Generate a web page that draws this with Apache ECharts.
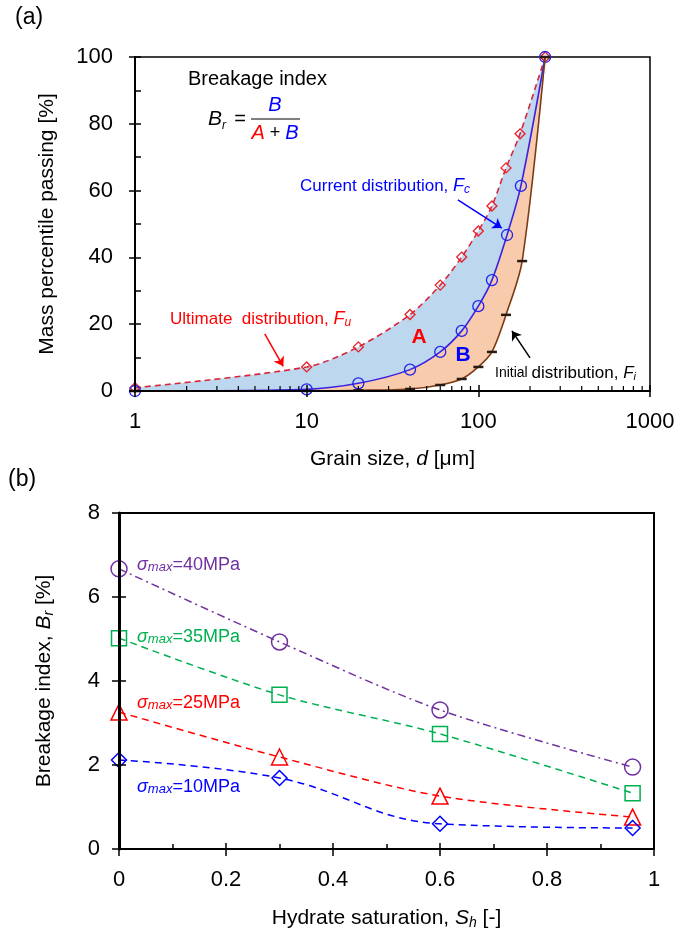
<!DOCTYPE html>
<html><head><meta charset="utf-8">
<script src="https://cdn.jsdelivr.net/npm/echarts@6/dist/echarts.min.js"></script>
<style>html,body{margin:0;padding:0;background:#fff}#c{width:678px;height:936px}</style>
</head><body><div id="c"></div>
<script>
const FONT = '"Liberation Sans", Arial, sans-serif';
// (a) grain size distributions
const ultimateD = [1, 10, 20, 40, 60, 80, 100, 120, 145, 175, 245];
const ultimateP = [1.0, 7.2, 13.2, 22.9, 31.7, 40.1, 47.9, 55.4, 66.8, 77.0, 100];
const currentD = [1, 10, 20, 40, 60, 80, 100, 120, 147, 177, 245];
const currentP = [0, 0.5, 2.3, 6.4, 11.7, 18.0, 25.4, 33.2, 46.7, 61.4, 100];
const initialD = [1, 10, 20, 40, 60, 80, 100, 120, 145, 180, 245];
const initialP = [0, 0, 0.2, 0.6, 1.8, 3.6, 7.2, 11.7, 22.8, 38.9, 100];
const grainMinorTicks = [2,3,4,5,6,7,8,9,20,30,40,50,60,70,80,90,200,300,400,500,600,700,800,900];
// (b) breakage index vs hydrate saturation
const saturation = [0, 0.3, 0.6, 0.96];
const br40 = [6.67, 4.93, 3.31, 1.95];
const br35 = [5.02, 3.67, 2.74, 1.33];
const br25 = [3.26, 2.19, 1.26, 0.76];
const br10 = [2.12, 1.69, 0.60, 0.50];
const stressLabels = ['=40MPa', '=35MPa', '=25MPa', '=10MPa'];

const pairs = (xs, ys) => xs.map((x, i) => [x, ys[i]]);
const tickFont = {fontFamily: FONT, fontSize: 22, color: '#000'};
const nameStyle = (sz) => ({fontFamily: FONT, fontSize: sz, color: '#000',
  rich: {i: {fontFamily: FONT, fontSize: sz, fontStyle: 'italic', color: '#000'},
         s: {fontFamily: FONT, fontSize: 14, fontStyle: 'italic', color: '#000', padding: [9, 0, 0, 0]},
         n: {fontFamily: FONT, fontSize: sz, color: '#000'}}});
const blk = {color: '#000', width: 1.5};

const chart = echarts.init(document.getElementById('c'));
const option = {
  animation: false,
  backgroundColor: '#fff',
  grid: [
    {left: 135, top: 57, width: 515, height: 334, show: true, borderColor: '#000', borderWidth: 1.5, backgroundColor: 'transparent'},
    {left: 119, top: 513, width: 535, height: 336, show: true, borderColor: '#000', borderWidth: 2, backgroundColor: 'transparent'}
  ],
  xAxis: [
    {type: 'log', logBase: 10, min: 1, max: 1000, gridIndex: 0, z: 5, position: 'bottom',
     axisLine: {lineStyle: {color: '#000', width: 2}}, axisTick: {length: 6, lineStyle: blk},
     axisLabel: Object.assign({margin: 20, formatter: v => String(v)}, tickFont), splitLine: {show: false},
     name: '{n|Grain size, }{i|d}{n| [μm]}', nameLocation: 'middle', nameGap: 58, nameTextStyle: nameStyle(21)},
    {type: 'log', logBase: 10, min: 1, max: 1000, gridIndex: 0, z: 5, position: 'bottom',
     axisLine: {show: false}, axisTick: {inside: true, length: 6, lineStyle: blk},
     axisLabel: {show: false}, splitLine: {show: false}},
    {type: 'value', min: 0, max: 1, interval: 0.2, gridIndex: 1, z: 5, position: 'bottom',
     axisLine: {lineStyle: {color: '#000', width: 2}}, axisTick: {length: 7, lineStyle: blk},
     axisLabel: Object.assign({margin: 20}, tickFont), splitLine: {show: false},
     name: '{n|Hydrate saturation, }{i|S}{s|h}{n| [-]}', nameLocation: 'middle', nameGap: 58, nameTextStyle: nameStyle(21)},
    {type: 'value', min: 0, max: 1, interval: 0.2, gridIndex: 1, z: 5, position: 'bottom',
     axisLine: {show: false}, axisTick: {inside: true, length: 6, lineStyle: blk},
     minorTick: {show: true, splitNumber: 2, length: 5, lineStyle: blk},
     axisLabel: {show: false}, splitLine: {show: false}}
  ],
  yAxis: [
    {type: 'value', min: 0, max: 100, interval: 20, gridIndex: 0, z: 5, position: 'left',
     axisLine: {lineStyle: {color: '#000', width: 2}}, axisTick: {length: 6, lineStyle: blk},
     axisLabel: Object.assign({margin: 22}, tickFont), splitLine: {show: false},
     name: 'Mass percentile passing [%]', nameLocation: 'middle', nameGap: 77, nameTextStyle: nameStyle(21)},
    {type: 'value', min: 0, max: 100, interval: 20, gridIndex: 0, z: 5, position: 'left',
     axisLine: {show: false}, axisTick: {inside: true, length: 6, lineStyle: blk},
     minorTick: {show: true, splitNumber: 2, length: 6, lineStyle: blk},
     axisLabel: {show: false}, splitLine: {show: false}},
    {type: 'value', min: 0, max: 8, interval: 2, gridIndex: 1, z: 5, position: 'left',
     axisLine: {lineStyle: {color: '#000', width: 3}}, axisTick: {length: 7, lineStyle: blk},
     axisLabel: Object.assign({margin: 19}, tickFont), splitLine: {show: false},
     name: '{n|Breakage index, }{i|B}{s|r}{n| [%]}', nameLocation: 'middle', nameGap: 63, nameTextStyle: nameStyle(21)},
    {type: 'value', min: 0, max: 8, interval: 2, gridIndex: 1, z: 5, position: 'left',
     axisLine: {show: false}, axisTick: {inside: true, length: 7, lineStyle: blk},
     axisLabel: {show: false}, splitLine: {show: false}}
  ],
  series: [
    {type: 'line', name: 'Ultimate', xAxisIndex: 0, yAxisIndex: 0, z: 2, smooth: 0.3,
     data: pairs(ultimateD, ultimateP),
     lineStyle: {color: '#D9263A', width: 1.6, type: [6, 4]},
     areaStyle: {color: '#BDD7EE', opacity: 1},
     symbol: 'diamond', symbolSize: 10,
     itemStyle: {color: 'transparent', borderColor: '#E8202A', borderWidth: 1.3},
     markLine: {silent: true, symbol: ['none', 'arrow'], symbolSize: 9, label: {show: false},
       lineStyle: {color: '#FF0000', width: 1.5, type: 'solid'},
       data: [[{coord: [5.7, 17.1]}, {coord: [7.3, 7.4]}]]}},
    {type: 'line', name: 'Current', xAxisIndex: 0, yAxisIndex: 0, z: 3, smooth: 0.3,
     data: pairs(currentD, currentP),
     lineStyle: {color: '#3A22E0', width: 1.6},
     areaStyle: {color: '#F8CBAD', opacity: 1},
     symbol: 'circle', symbolSize: 11,
     itemStyle: {color: 'transparent', borderColor: '#2222EE', borderWidth: 1.3},
     markLine: {silent: true, symbol: ['none', 'arrow'], symbolSize: 9, label: {show: false},
       lineStyle: {color: '#0000FF', width: 1.5, type: 'solid'},
       data: [[{coord: [76, 57.2]}, {coord: [137, 48.8]}]]}},
    {type: 'line', name: 'Initial', xAxisIndex: 0, yAxisIndex: 0, z: 4, smooth: 0.3,
     data: pairs(initialD, initialP),
     lineStyle: {color: '#7B3A12', width: 1.6},
     areaStyle: {color: '#FFFFFF', opacity: 1},
     symbol: 'rect', symbolSize: [10, 2.5],
     itemStyle: {color: '#2A1A10'},
     markLine: {silent: true, symbol: ['none', 'arrow'], symbolSize: 9, label: {show: false},
       lineStyle: {color: '#000', width: 1.5, type: 'solid'},
       data: [
         [{coord: [200, 9.9]}, {coord: [157, 18]}],
         [{coord: [245, 0.5], symbol: 'none', lineStyle: {color: '#fff', width: 2.5}},
          {coord: [245, 95], symbol: 'none'}]
       ]}},
    {type: 'custom', xAxisIndex: 0, yAxisIndex: 0, z: 6, silent: true,
     data: grainMinorTicks.map(v => [v, 0]),
     renderItem: (params, api) => {
       const p = api.coord([api.value(0), 0]);
       return {type: 'line', shape: {x1: p[0], y1: p[1], x2: p[0], y2: p[1] - 5},
               style: {stroke: '#000', lineWidth: 1.2}};
     }},
    {type: 'line', name: '40MPa', xAxisIndex: 2, yAxisIndex: 2, smooth: 0.3,
     data: pairs(saturation, br40),
     lineStyle: {color: '#7030A0', width: 1.5, type: [8, 4, 2, 4]},
     symbol: 'circle', symbolSize: 16,
     itemStyle: {color: 'transparent', borderColor: '#7030A0', borderWidth: 1.5}},
    {type: 'line', name: '35MPa', xAxisIndex: 2, yAxisIndex: 2, smooth: 0.3,
     data: pairs(saturation, br35),
     lineStyle: {color: '#00B050', width: 1.5, type: [7, 5]},
     symbol: 'rect', symbolSize: 15,
     itemStyle: {color: 'transparent', borderColor: '#00B050', borderWidth: 1.5}},
    {type: 'line', name: '25MPa', xAxisIndex: 2, yAxisIndex: 2, smooth: 0.3,
     data: pairs(saturation, br25),
     lineStyle: {color: '#FF0000', width: 1.5, type: [7, 5]},
     symbol: 'triangle', symbolSize: 16,
     itemStyle: {color: 'transparent', borderColor: '#FF0000', borderWidth: 1.5}},
    {type: 'line', name: '10MPa', xAxisIndex: 2, yAxisIndex: 2, smooth: 0.4,
     data: pairs(saturation, br10),
     lineStyle: {color: '#0000FF', width: 1.5, type: [7, 5]},
     symbol: 'diamond', symbolSize: 15,
     itemStyle: {color: 'transparent', borderColor: '#0000FF', borderWidth: 1.5}}
  ],
  graphic: {elements: [
    {type: 'text', z: 100, x: 15, y: 6, style: {text: '(a)', font: '23px ' + FONT, fill: '#000'}},
    {type: 'text', z: 100, x: 8, y: 468, style: {text: '(b)', font: '23px ' + FONT, fill: '#000'}},
    {type: 'text', z: 100, x: 188, y: 79, style: {text: 'Breakage index', font: '20px ' + FONT, fill: '#000', textVerticalAlign: 'middle'}},
    {type: 'text', z: 100, x: 208, y: 119, style: {text: 'B', font: 'italic 21px ' + FONT, fill: '#000', textVerticalAlign: 'middle'}},
    {type: 'text', z: 100, x: 222, y: 126, style: {text: 'r', font: 'italic 12px ' + FONT, fill: '#000', textVerticalAlign: 'middle'}},
    {type: 'text', z: 100, x: 240, y: 119, style: {text: '=', font: '20px ' + FONT, fill: '#000', textAlign: 'center', textVerticalAlign: 'middle'}},
    {type: 'line', z: 100, shape: {x1: 251, y1: 119, x2: 300, y2: 119}, style: {stroke: '#000', lineWidth: 1}},
    {type: 'text', z: 100, x: 275, y: 105, style: {text: 'B', font: 'italic 20px ' + FONT, fill: '#0000FF', textAlign: 'center', textVerticalAlign: 'middle'}},
    {type: 'text', z: 100, x: 275, y: 133, style: {text: '{a|A}{p| + }{b|B}', textAlign: 'center', textVerticalAlign: 'middle',
      rich: {a: {font: 'italic 20px ' + FONT, fill: '#FF0000'}, p: {font: '18px ' + FONT, fill: '#000'}, b: {font: 'italic 20px ' + FONT, fill: '#0000FF'}}}},
    {type: 'text', z: 100, x: 300, y: 186, style: {text: '{t|Current distribution, }{f|F}{s|c}', textVerticalAlign: 'middle',
      rich: {t: {font: '17px ' + FONT, fill: '#0000FF'}, f: {font: 'italic 18px ' + FONT, fill: '#0000FF'}, s: {font: 'italic 12px ' + FONT, fill: '#0000FF', padding: [8, 0, 0, 0]}}}},
    {type: 'text', z: 100, x: 170, y: 319, style: {text: '{t|Ultimate  distribution, }{f|F}{s|u}', textVerticalAlign: 'middle',
      rich: {t: {font: '17px ' + FONT, fill: '#FF0000'}, f: {font: 'italic 18px ' + FONT, fill: '#FF0000'}, s: {font: 'italic 12px ' + FONT, fill: '#FF0000', padding: [8, 0, 0, 0]}}}},
    {type: 'text', z: 100, x: 495, y: 373, style: {text: '{a|Initial }{t|distribution, }{f|F}{s|i}', textVerticalAlign: 'middle',
      rich: {a: {font: '14px ' + FONT, fill: '#000'}, t: {font: '17px ' + FONT, fill: '#000'}, f: {font: 'italic 17px ' + FONT, fill: '#000'}, s: {font: 'italic 11px ' + FONT, fill: '#000', padding: [8, 0, 0, 0]}}}},
    {type: 'text', z: 100, x: 419, y: 337, style: {text: 'A', font: 'bold 21px ' + FONT, fill: '#FF0000', textAlign: 'center', textVerticalAlign: 'middle'}},
    {type: 'text', z: 100, x: 463, y: 355, style: {text: 'B', font: 'bold 21px ' + FONT, fill: '#0000FF', textAlign: 'center', textVerticalAlign: 'middle'}},
    {type: 'text', z: 100, x: 137, y: 565, style: {text: '{g|σ}{m|max}{t|' + stressLabels[0] + '}', textVerticalAlign: 'middle',
      rich: {g: {font: 'italic 18px ' + FONT, fill: '#7030A0'}, m: {font: 'italic 13px ' + FONT, fill: '#7030A0', padding: [5, 0, 0, 0]}, t: {font: '18px ' + FONT, fill: '#7030A0'}}}},
    {type: 'text', z: 100, x: 137, y: 637, style: {text: '{g|σ}{m|max}{t|' + stressLabels[1] + '}', textVerticalAlign: 'middle',
      rich: {g: {font: 'italic 18px ' + FONT, fill: '#00B050'}, m: {font: 'italic 13px ' + FONT, fill: '#00B050', padding: [5, 0, 0, 0]}, t: {font: '18px ' + FONT, fill: '#00B050'}}}},
    {type: 'text', z: 100, x: 137, y: 703, style: {text: '{g|σ}{m|max}{t|' + stressLabels[2] + '}', textVerticalAlign: 'middle',
      rich: {g: {font: 'italic 18px ' + FONT, fill: '#FF0000'}, m: {font: 'italic 13px ' + FONT, fill: '#FF0000', padding: [5, 0, 0, 0]}, t: {font: '18px ' + FONT, fill: '#FF0000'}}}},
    {type: 'text', z: 100, x: 137, y: 787, style: {text: '{g|σ}{m|max}{t|' + stressLabels[3] + '}', textVerticalAlign: 'middle',
      rich: {g: {font: 'italic 18px ' + FONT, fill: '#0000FF'}, m: {font: 'italic 13px ' + FONT, fill: '#0000FF', padding: [5, 0, 0, 0]}, t: {font: '18px ' + FONT, fill: '#0000FF'}}}}
  ]}
};
chart.setOption(option);
</script>
</body></html>
